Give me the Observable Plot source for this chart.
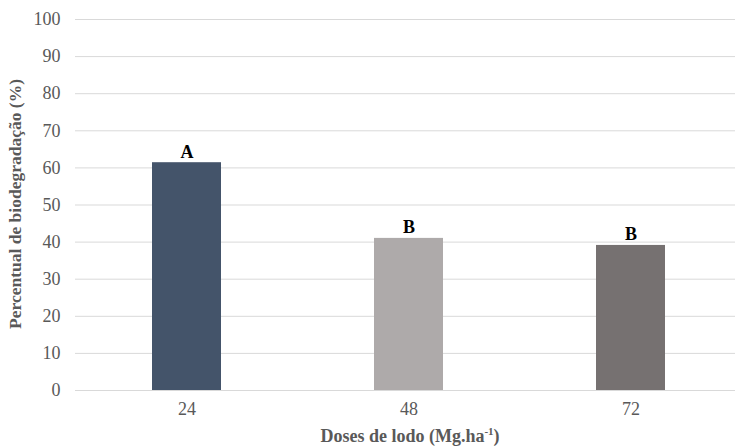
<!DOCTYPE html>
<html>
<head>
<meta charset="utf-8">
<script src="https://cdn.jsdelivr.net/npm/d3@7"></script>
<script src="https://cdn.jsdelivr.net/npm/@observablehq/plot@0.6"></script>
<style>
  html, body { margin: 0; padding: 0; background: #fff; }
  #chart svg { display: block; }
  #chart svg text { font-family: 'Liberation Serif', 'Times New Roman', serif; }
</style>
</head>
<body>
<div id="chart"></div>
<script>
const doses = ["24", "48", "72"];
const percentual = [61.4, 41.0, 39.1];
const letras = ["A", "B", "B"];
const cores = ["#44546a", "#aeaaaa", "#767171"];
const yTicks = [0, 10, 20, 30, 40, 50, 60, 70, 80, 90, 100];

const data = doses.map((d, i) => ({dose: d, valor: percentual[i], letra: letras[i], cor: cores[i]}));

const font = "'Liberation Serif', 'Times New Roman', serif";

const plot = Plot.plot({
  width: 735,
  height: 448,
  marginLeft: 75,
  marginRight: 0,
  marginTop: 19,
  marginBottom: 58,
  style: {fontFamily: font, fontSize: "18px", color: "#595959", background: "#fff"},
  x: {domain: doses, range: [74, 742], paddingInner: 0.69, paddingOuter: 0.345, label: null},
  y: {domain: [0, 100], label: null},
  marks: [
    Plot.ruleY(yTicks, {stroke: "#d9d9d9", strokeWidth: 1, strokeOpacity: 1}),
    Plot.barY(data, {x: "dose", y: "valor", fill: "cor"}),
    Plot.text(data, {x: "dose", y: "valor", text: "letra", dy: -5, lineAnchor: "bottom", fontWeight: "bold", fontSize: 18, fontFamily: font, fill: "#000"}),
    Plot.axisY(yTicks, {tickSize: 0, tickPadding: 15, fontSize: 18, fontFamily: font, fill: "#595959", label: null}),
    Plot.axisX({tickSize: 0, tickPadding: 12, fontSize: 18, fontFamily: font, fill: "#595959", label: null})
  ]
});

document.getElementById("chart").appendChild(plot);

const svg = d3.select(plot);
svg.append("text")
  .attr("transform", "translate(17,204) rotate(-90)")
  .attr("text-anchor", "middle")
  .attr("dominant-baseline", "middle")
  .attr("font-family", font)
  .attr("font-weight", "bold")
  .attr("font-size", 17.5)
  .attr("fill", "#595959")
  .text("Percentual de biodegradação (%)");

const xt = svg.append("text")
  .attr("x", 410)
  .attr("y", 442)
  .attr("text-anchor", "middle")
  .attr("font-family", font)
  .attr("font-weight", "bold")
  .attr("font-size", 18)
  .attr("fill", "#595959");
xt.append("tspan").text("Doses de lodo (Mg.ha");
xt.append("tspan").attr("font-size", 11).attr("dy", -7).text("-1");
xt.append("tspan").attr("dy", 7).text(")");
</script>
</body>
</html>
